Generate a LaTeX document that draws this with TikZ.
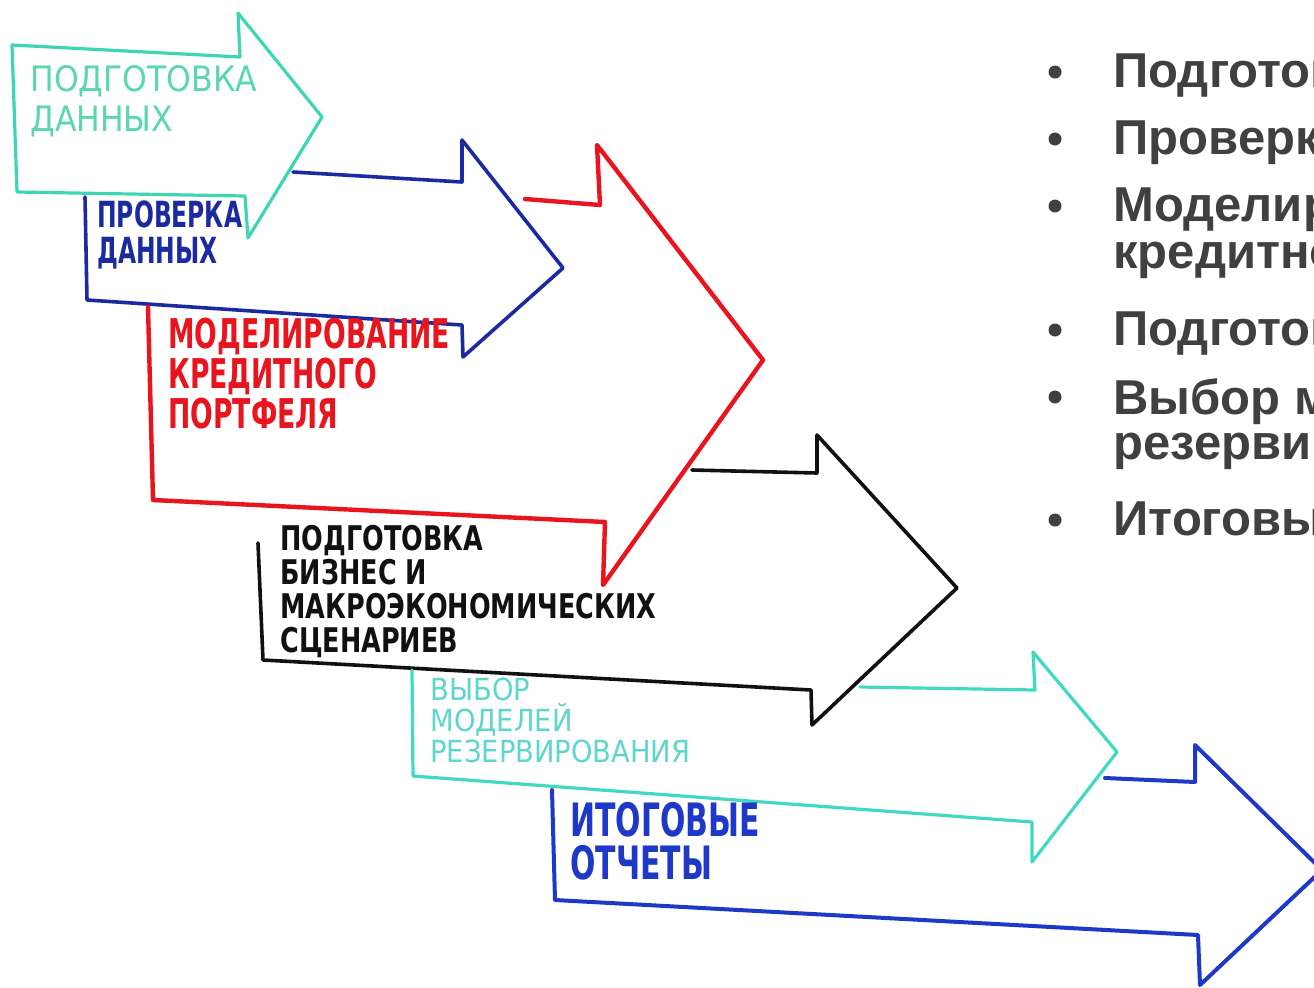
\documentclass[tikz,border=0pt]{standalone}
\usepackage{fontspec}
\setmainfont{DejaVu Sans}
\newfontfamily\listfont{Liberation Sans}
\newfontfamily\penwide[FakeStretch=0.9]{DejaVu Sans}
\newfontfamily\penmid[FakeStretch=0.75]{DejaVu Sans}
\newfontfamily\pennarrow[FakeStretch=0.65]{DejaVu Sans}

\definecolor{mint}{HTML}{3DD6B4}
\definecolor{minttext}{HTML}{5AD6B0}
\definecolor{navy}{HTML}{1B2AA0}
\definecolor{markred}{HTML}{E8141E}
\definecolor{ink}{HTML}{111111}
\definecolor{aqua}{HTML}{40D9C4}
\definecolor{aquatext}{HTML}{5ED6CC}
\definecolor{royal}{HTML}{1E38C8}
\definecolor{slate}{HTML}{404040}

\tikzset{
  pen/.style={line width=#1, line join=round, line cap=round},
  pen/.default=2pt,
  note/.style={anchor=north west, inner sep=0pt, align=left},
  listline/.style={anchor=north west, inner sep=0pt, align=left, text=slate,
    font=\listfont\bfseries\fontsize{24.5}{22.5}\selectfont},
  dot/.style={circle, fill=slate, inner sep=0pt, minimum size=6.5pt}
}

\begin{document}
\begin{tikzpicture}[x=0.5pt, y=-0.5pt]
  \useasboundingbox (0,0) rectangle (1314,987);
  \clip (0,0) rectangle (1314,987);
  \fill[white] (0,0) rectangle (1314,987);

  % the six hand-drawn arrows, each tucked under the one before
  \draw[pen=1.6pt, mint] (12,45) -- (240,57) -- (238,13) -- (322,117)
    -- (248,238) -- (245,196) -- (17,192) -- cycle;
  \draw[pen=1.8pt, navy] (293,172) -- (462,182) -- (462,140) -- (563,268)
    -- (463,357) -- (462,325) -- (87,300) -- (85,197);
  \draw[pen=2.2pt, markred] (525,199) -- (600,205) -- (597,145) -- (763,360)
    -- (603,585) -- (605,522) -- (153,500) -- (148,307);
  \draw[pen=1.8pt, ink] (692,470) -- (817,473) -- (817,435) -- (957,588)
    -- (812,725) -- (811,690) -- (263,660) -- (258,543);
  \draw[pen=1.6pt, aqua] (860,687) -- (1035,690) -- (1033,652) -- (1117,752)
    -- (1032,862) -- (1032,822) -- (413,776) -- (412,670);
  \draw[pen=2pt, royal] (1105,778) -- (1195,782) -- (1195,745) -- (1322,870)
    -- (1200,985) -- (1198,935) -- (555,900) -- (552,790);

  % captions inside the arrows
  \node[note, text=minttext, font=\penwide\fontsize{17.5}{20}\selectfont]
    (prep) at (30,65) {ПОДГОТОВКА\\ДАННЫХ};
  \node[note, text=navy, font=\pennarrow\bfseries\fontsize{18}{18}\selectfont]
    (check) at (97,200) {ПРОВЕРКА\\ДАННЫХ};
  \node[note, text=markred, font=\pennarrow\bfseries\fontsize{20.5}{20}\selectfont]
    (model) at (168,318) {МОДЕЛИРОВАНИЕ\\КРЕДИТНОГО\\ПОРТФЕЛЯ};
  \node[note, text=ink, font=\penmid\bfseries\fontsize{17}{17}\selectfont]
    (scen) at (280,525) {ПОДГОТОВКА\\БИЗНЕС И\\МАКРОЭКОНОМИЧЕСКИХ\\СЦЕНАРИЕВ};
  \node[note, text=aquatext, font=\penwide\fontsize{15.2}{15.5}\selectfont]
    (choice) at (430,678) {ВЫБОР\\МОДЕЛЕЙ\\РЕЗЕРВИРОВАНИЯ};
  \node[note, text=royal, font=\pennarrow\bfseries\fontsize{23}{21.5}\selectfont]
    (report) at (570,802) {ИТОГОВЫЕ\\ОТЧЕТЫ};

  % bullet list on the right
  \node[dot] (b1) at (1055,72) {};
  \node[listline] (li1) at (1113,53) {Подготовка данных};
  \node[dot] (b2) at (1055,139) {};
  \node[listline] (li2) at (1113,120) {Проверка данных};
  \node[dot] (b3) at (1055,206) {};
  \node[listline] (li3) at (1113,187) {Моделирование\\кредитного портфеля};
  \node[dot] (b4) at (1055,330) {};
  \node[listline] (li4) at (1113,311) {Подготовка сценариев};
  \node[dot] (b5) at (1055,397) {};
  \node[listline] (li5) at (1113,378) {Выбор моделей\\резервирования};
  \node[dot] (b6) at (1055,520) {};
  \node[listline] (li6) at (1113,501) {Итоговые отчеты};
\end{tikzpicture}
\end{document}
